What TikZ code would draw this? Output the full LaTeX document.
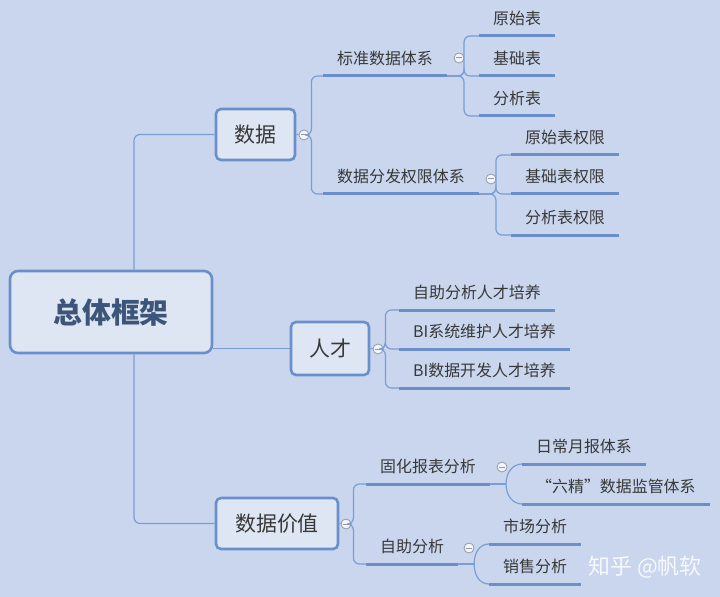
\documentclass[tikz,border=0pt]{standalone}
\usepackage{fontspec}
\setmainfont{Noto Sans CJK SC}
\usepackage{xcolor}
\definecolor{mapbg}{HTML}{C9D6EE}
\definecolor{topicfill}{HTML}{DFE6F3}
\definecolor{topicedge}{HTML}{6A90CB}
\definecolor{linkblue}{HTML}{7C9DD2}
\definecolor{ulineblue}{HTML}{6A8FCB}
\definecolor{textgray}{HTML}{383838}
\definecolor{roottext}{HTML}{3C5579}
\colorlet{foldfill}{white!75!mapbg}
\colorlet{foldedge}{gray!70!mapbg}

\tikzset{
    topic/.style={draw=topicedge, fill=topicfill, line width=2.6bp, rounded corners=5bp,
        text=textgray, font=\fontsize{21}{21}\selectfont},
    leaf/.style={anchor=south west, inner xsep=14bp, inner ysep=4bp, text height=13bp,
        text depth=7bp, text=textgray, font=\fontsize{16}{16}\selectfont},
    uline/.style={draw=ulineblue, line width=3bp},
    link/.style={draw=linkblue, line width=1.2bp, rounded corners=6bp},
    fold/.style={circle, draw=foldedge, fill=foldfill, line width=0.8bp, minimum size=10bp,
        inner sep=0pt, path picture={\draw[foldedge, line width=1bp]
            ([xshift=-2.8bp]path picture bounding box.center) --
            ([xshift=2.8bp]path picture bounding box.center);}}
}

\begin{document}
\begin{tikzpicture}[x=1bp, y=-1bp]
        \useasboundingbox[fill=mapbg] (0,0) rectangle (720,597);
        % main topics
        \node[topic, minimum width=202bp, minimum height=82bp, rounded corners=8bp,
            text=roottext, font=\fontsize{29}{29}\selectfont\bfseries] (root) at (111,312) {总体框架};
        \node[topic, minimum width=79bp, minimum height=51bp] (data) at (255.5,134.5) {数据};
        \node[topic, minimum width=78bp, minimum height=53bp] (talent) at (330,348.5) {人才};
        \node[topic, minimum width=122bp, minimum height=51bp] (value) at (277,523.5) {数据价值};
        \draw[link] ([xshift=23bp]root.north) |- (data.west);
        \draw[link] ([xshift=23bp]root.south) |- (value.west);
        \draw[link] (talent.west -| root.east) -- (talent.west);
        \node[fold] (fData) at (304,135) {};
        \node[fold] (fTalent) at (378,349) {};
        \node[fold] (fValue) at (346,524) {};
        \draw[link] (data.east) -- (fData);
        \draw[link] (talent.east) -- (fTalent);
        \draw[link] (value.east) -- (fValue);
        % data
        \foreach \nm/\txt/\y in {std/标准数据体系/76, dist/数据分发权限体系/194}{
            \node[leaf] (\nm) at (323,\y) {\txt};
            \draw[uline] (\nm.south west) -- (\nm.south east);
            \draw[link] (fData.east) -- ++(2,0) |- (\nm.south west);
        }
        \node[fold] (fStd) at (459,58) {};
        \node[fold] (fDist) at (491,179) {};
        \foreach \nm/\txt/\y in {std1/原始表/36, std2/基础表/76, std3/分析表/116}{
            \node[leaf] (\nm) at (479,\y) {\txt};
            \draw[uline] (\nm.south west) -- (\nm.south east);
            \draw[link] (std.south east) -- ++(17,0) |- (\nm.south west);
        }
        \foreach \nm/\txt/\y in {dist1/原始表权限/155, dist2/基础表权限/194, dist3/分析表权限/235}{
            \node[leaf] (\nm) at (511,\y) {\txt};
            \draw[uline] (\nm.south west) -- (\nm.south east);
            \draw[link] (dist.south east) -- ++(17,0) |- (\nm.south west);
        }
        % talent
        \foreach \nm/\txt/\y in {tal1/自助分析人才培养/310, tal2/BI系统维护人才培养/349, tal3/BI数据开发人才培养/388}{
            \node[leaf] (\nm) at (399,\y) {\txt};
            \draw[uline] (\nm.south west) -- (\nm.south east);
            \draw[link] (fTalent.east) -- ++(2,0) |- (\nm.south west);
        }
        % value
        \foreach \nm/\txt/\y in {fixed/固化报表分析/484, self/自助分析/564}{
            \node[leaf] (\nm) at (366,\y) {\txt};
            \draw[uline] (\nm.south west) -- (\nm.south east);
            \draw[link] (fValue.east) -- ++(2,0) |- (\nm.south west);
        }
        \node[fold] (fFixed) at (502,467) {};
        \node[fold] (fSelf) at (469,548) {};
        \draw[link] (fixed.south east) -- ++(16,0) coordinate (jFixed);
        \draw[link] (self.south east) -- ++(16,0) coordinate (jSelf);
        \node[leaf] (fixed1) at (522,464) {日常月报体系};
        \node[leaf] (fixed2) at (522,504) {“六精”数据监管体系};
        \node[leaf] (self1) at (489,544) {市场分析};
        \node[leaf] (self2) at (489,584) {销售分析};
        \foreach \nm in {fixed1, fixed2, self1, self2}{
            \draw[uline] (\nm.south west) -- (\nm.south east);
        }
        \draw[link] (jFixed) .. controls +(0,-12) and +(-9,0) .. (fixed1.south west);
        \draw[link] (jFixed) .. controls +(0,12) and +(-9,0) .. (fixed2.south west);
        \draw[link] (jSelf) .. controls +(0,-12) and +(-9,0) .. (self1.south west);
        \draw[link] (jSelf) .. controls +(0,12) and +(-9,0) .. (self2.south west);
        \node[text=white!85!mapbg, font=\fontsize{22}{22}\selectfont] (mark) at (645,567) {知乎 @帆软};
    \end{tikzpicture}
\end{document}
